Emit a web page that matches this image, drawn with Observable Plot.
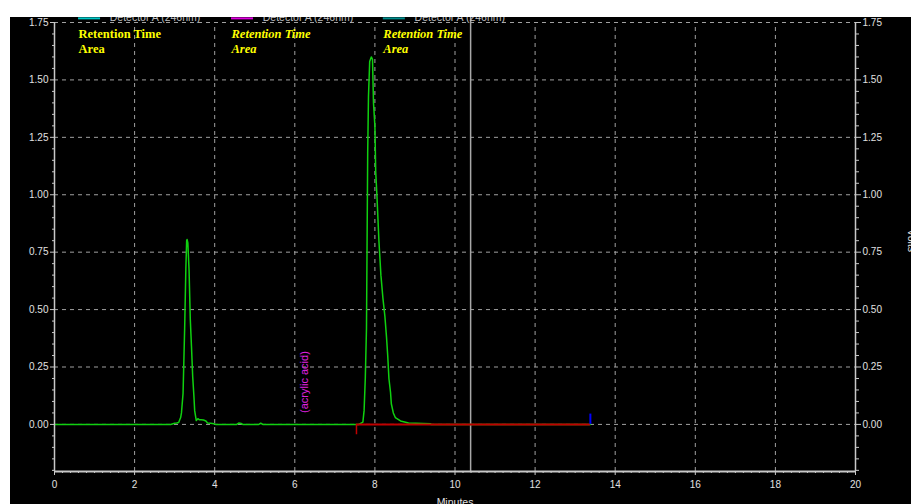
<!DOCTYPE html>
<html>
<head>
<meta charset="utf-8">
<script src="https://cdn.jsdelivr.net/npm/d3@7"></script>
<script src="https://cdn.jsdelivr.net/npm/@observablehq/plot@0.6"></script>
<style>
  html, body { margin: 0; padding: 0; background: #ffffff; width: 911px; height: 504px; overflow: hidden; }
  #chart { position: absolute; left: 10px; top: 17px; width: 901px; height: 487px; background: #000; overflow: hidden; }
  #chart svg { overflow: hidden; display: block; }
</style>
</head>
<body>
<div id="chart"></div>
<script>
// ---- data ----
const time = [0, 2.9, 3.0, 3.05, 3.1, 3.15, 3.17, 3.21, 3.25, 3.28, 3.3, 3.31, 3.33, 3.36, 3.39, 3.42, 3.45, 3.48, 3.5, 3.54, 3.58, 3.62, 3.66, 3.72, 3.78, 3.82, 3.9, 3.98, 4.02, 4.55, 4.6, 4.66, 4.7, 5.1, 5.15, 5.2, 7.6, 7.7, 7.73, 7.76, 7.79, 7.82, 7.84, 7.87, 7.91, 7.94, 7.965, 8.0, 8.02, 8.05, 8.1, 8.15, 8.2, 8.25, 8.29, 8.32, 8.35, 8.39, 8.41, 8.46, 8.51, 8.64, 8.84, 9.39, 9.4, 13.38];
const signal = [0, 0, 0.005, 0.006, 0.008, 0.03, 0.05, 0.135, 0.42, 0.68, 0.80, 0.805, 0.79, 0.67, 0.46, 0.34, 0.21, 0.126, 0.06, 0.017, 0.025, 0.02, 0.02, 0.019, 0.015, 0.006, 0.005, 0.003, 0, 0, 0.006, 0.004, 0, 0, 0.005, 0, 0, 0.01, 0.06, 0.2, 0.42, 1.18, 1.43, 1.58, 1.60, 1.59, 1.40, 1.3, 1.1, 1.0, 0.8, 0.65, 0.55, 0.47, 0.38, 0.30, 0.2, 0.14, 0.09, 0.05, 0.03, 0.015, 0.006, 0.003, 0, 0];
const xTicks = [0, 2, 4, 6, 8, 10, 12, 14, 16, 18, 20];
const yTicks = [0, 0.25, 0.5, 0.75, 1.0, 1.25, 1.5, 1.75];
const xDomain = [0, 20];
const yDomain = [-0.205, 1.75];
const peakLabel = "(acrylic acid)";
const peakLabelTime = 6.24;
const peakLabelLevel = 0.05;
const baselineStart = 7.54;
const baselineEnd = 13.38;
const cursorTime = 10.39;
const legendNames = ["Detector A (246nm)", "Detector A (246nm)", "Detector A (246nm)"];
const legendLine1 = ["Retention Time", "Retention Time", "Retention Time"];
const legendLine2 = ["Area", "Area", "Area"];
const xLabel = "Minutes";
const yLabelRight = "Volts";

// ---- layout / style ----
const legendX = [0.6, 4.42, 8.21];
const legendColors = ["#00c8c8", "#e000e0", "#008c8c"];
const legendStyles = ["normal", "italic", "italic"];

const trace = time.map((t, i) => ({t, v: signal[i]}));
const yMinor = d3.range(-20, 176, 5).map(d => d / 100).filter(d => !yTicks.some(m => Math.abs(m - d) < 1e-9));
const xMinor = d3.range(0, 201, 2).map(d => d / 10).filter(d => !xTicks.some(m => Math.abs(m - d) < 1e-9));

const grid = "#a0a0a0";
const axisCol = "#c8c8c8";
const textCol = "#e0e0e0";
const serif = "Liberation Serif, DejaVu Serif, serif";

const legendMarks = legendNames.flatMap((name, i) => [
  Plot.ruleY([{y: 1.768, x1: legendX[i], x2: legendX[i] + 0.55}], {y: "y", x1: "x1", x2: "x2", stroke: legendColors[i], strokeWidth: 2}),
  Plot.text([{x: legendX[i] + 0.78, y: 1.772, s: name}], {x: "x", y: "y", text: "s", textAnchor: "start", lineAnchor: "middle", fill: "#c0c0c0", fontSize: 10.5}),
  Plot.text([{x: legendX[i], y: 1.702, s: legendLine1[i]}], {x: "x", y: "y", text: "s", textAnchor: "start", lineAnchor: "middle", fill: "#ffff00", fontSize: 12.5, fontWeight: "bold", fontStyle: legendStyles[i], fontFamily: serif}),
  Plot.text([{x: legendX[i], y: 1.633, s: legendLine2[i]}], {x: "x", y: "y", text: "s", textAnchor: "start", lineAnchor: "middle", fill: "#ffff00", fontSize: 12.5, fontWeight: "bold", fontStyle: legendStyles[i], fontFamily: serif})
]);

const chart = Plot.plot({
  width: 901,
  height: 487,
  marginLeft: 44,
  marginRight: 56,
  marginTop: 5,
  marginBottom: 33,
  x: {domain: xDomain},
  y: {domain: yDomain},
  style: {background: "#000", color: textCol, fontFamily: "Liberation Sans, Arial, sans-serif", fontSize: "10px", overflow: "hidden"},
  marks: [
    Plot.ruleX(xTicks.slice(1, -1), {stroke: grid, strokeDasharray: "4,4", y1: yDomain[0], y2: yDomain[1]}),
    Plot.ruleY(yTicks, {stroke: grid, strokeDasharray: "4,4", x1: xDomain[0], x2: xDomain[1]}),
    Plot.ruleX([cursorTime], {y1: yDomain[0], y2: 1.85, stroke: "#a8a8a8", strokeWidth: 1.5}),
    Plot.line(trace, {x: "t", y: "v", stroke: "#10d010", strokeWidth: 1.5}),
    Plot.ruleY([{y: 0, x1: baselineStart, x2: baselineEnd}], {y: "y", x1: "x1", x2: "x2", stroke: "#c00000", strokeWidth: 2}),
    Plot.ruleX([{x: baselineStart, y1: -0.045, y2: 0}], {x: "x", y1: "y1", y2: "y2", stroke: "#c00000", strokeWidth: 1.5}),
    Plot.ruleX([{x: baselineEnd, y1: 0, y2: 0.045}], {x: "x", y1: "y1", y2: "y2", stroke: "#0000ff", strokeWidth: 2}),
    Plot.text([{x: peakLabelTime, y: peakLabelLevel, s: peakLabel}], {x: "x", y: "y", text: "s", rotate: -90, textAnchor: "start", lineAnchor: "middle", fill: "#e020e0", fontSize: 11}),
    ...legendMarks,
    // axis lines
    Plot.ruleX([xDomain[0]], {y1: yDomain[0], y2: yDomain[1], stroke: axisCol, strokeWidth: 1.5}),
    Plot.ruleX([xDomain[1]], {y1: yDomain[0], y2: yDomain[1], stroke: axisCol, strokeWidth: 1.5}),
    Plot.ruleY([yDomain[0]], {x1: xDomain[0], x2: xDomain[1], stroke: axisCol, strokeWidth: 2}),
    // axes
    Plot.axisY(yTicks, {anchor: "left", tickSize: 4, tickPadding: 2, tickFormat: d => d.toFixed(2), stroke: axisCol, fill: textCol, label: null}),
    Plot.axisY(yMinor, {anchor: "left", tickSize: 2, tickFormat: () => "", stroke: axisCol, label: null}),
    Plot.axisY(yTicks, {anchor: "right", tickSize: 5, tickPadding: 2, tickFormat: d => d.toFixed(2), stroke: axisCol, fill: textCol, label: null}),
    Plot.axisY(yMinor, {anchor: "right", tickSize: 3, tickFormat: () => "", stroke: axisCol, label: null}),
    Plot.axisX(xTicks, {anchor: "bottom", tickSize: 4, tickPadding: 5, tickFormat: d => String(d), stroke: axisCol, fill: textCol, label: null}),
    Plot.axisX(xMinor, {anchor: "bottom", tickSize: 2, tickFormat: () => "", stroke: axisCol, label: null}),
    Plot.text([{x: 10, s: xLabel}], {x: "x", text: "s", frameAnchor: "bottom", dy: 27, lineAnchor: "top", fill: textCol, fontSize: 10.5}),
    Plot.text([{x: 21.4, y: 0.8, s: yLabelRight}], {x: "x", y: "y", text: "s", rotate: 90, fill: textCol, fontSize: 10.5})
  ]
});
document.getElementById("chart").appendChild(chart);
</script>
</body>
</html>
